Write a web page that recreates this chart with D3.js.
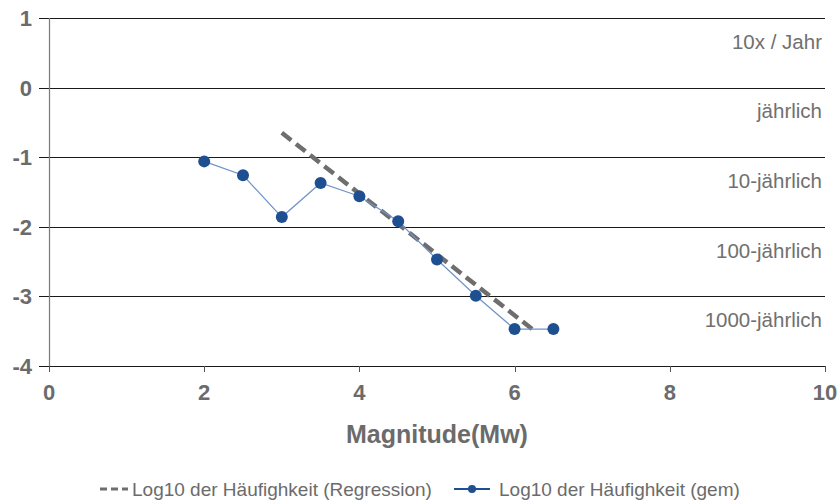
<!DOCTYPE html>
<html><head><meta charset="utf-8">
<script src="https://cdn.jsdelivr.net/npm/d3@7/dist/d3.min.js"></script>
<style>body{margin:0;background:#fff}svg{display:block;font-family:"Liberation Sans",Arial,sans-serif}</style>
</head><body><svg id="c" width="840" height="502"></svg>
<script>
const magnitudes = [2, 2.5, 3, 3.5, 4, 4.5, 5, 5.5, 6, 6.5];
const logFreq = [-1.06, -1.26, -1.86, -1.37, -1.56, -1.92, -2.47, -2.99, -3.47, -3.47];
const regressionX = [3, 6.25];
const regressionY = [-0.65, -3.49];
const yTicks = [1, 0, -1, -2, -3, -4];
const xTicks = [0, 2, 4, 6, 8, 10];
const bandLabels = ["10x / Jahr", "jährlich", "10-jährlich", "100-jährlich", "1000-jährlich"];
const xTitle = "Magnitude(Mw)";
const legendLabels = ["Log10 der Häufighkeit (Regression)", "Log10 der Häufighkeit (gem)"];

const svg = d3.select("#c");
const x = d3.scaleLinear().domain([0, 10]).range([49, 825]);
const y = d3.scaleLinear().domain([-4, 1]).range([366, 18]);
const grey = "#6b6b6b";

svg.append("g").selectAll("line").data(yTicks).join("line")
  .attr("x1", 39).attr("x2", x(10))
  .attr("y1", d => Math.round(y(d)) + 0.5).attr("y2", d => Math.round(y(d)) + 0.5)
  .attr("stroke", "#1a1a1a").attr("stroke-width", 1);

svg.append("line").attr("x1", 49.5).attr("x2", 49.5).attr("y1", y(1)).attr("y2", y(-4))
  .attr("stroke", "#7a7a7a").attr("stroke-width", 1.2);

svg.append("g").selectAll("line").data(xTicks).join("line")
  .attr("x1", d => Math.round(x(d)) + 0.5).attr("x2", d => Math.round(x(d)) + 0.5)
  .attr("y1", y(-4)).attr("y2", y(-4) + 6)
  .attr("stroke", "#555").attr("stroke-width", 1);

svg.append("g").selectAll("text").data(yTicks).join("text")
  .attr("x", 32).attr("y", d => y(d) + 8)
  .attr("text-anchor", "end").attr("font-size", 22).attr("font-weight", "bold")
  .attr("fill", grey).text(d => d);

svg.append("g").selectAll("text").data(xTicks).join("text")
  .attr("x", d => x(d)).attr("y", 400)
  .attr("text-anchor", "middle").attr("font-size", 22).attr("font-weight", "bold")
  .attr("fill", grey).text(d => d);

svg.append("g").selectAll("text").data(bandLabels).join("text")
  .attr("x", 822).attr("y", (d, i) => y(0.5 - i) - 4)
  .attr("text-anchor", "end").attr("font-size", 20.5)
  .attr("fill", "#707070").text(d => d);

svg.append("path")
  .datum(regressionX.map((v, i) => [v, regressionY[i]]))
  .attr("d", d3.line().x(d => x(d[0])).y(d => y(d[1])))
  .attr("fill", "none").attr("stroke", "#6e6e6e").attr("stroke-width", 4.5)
  .attr("stroke-dasharray", "12,6");

const pts = magnitudes.map((m, i) => [m, logFreq[i]]);
svg.append("path").datum(pts)
  .attr("d", d3.line().x(d => x(d[0])).y(d => y(d[1])))
  .attr("fill", "none").attr("stroke", "#6f93c8").attr("stroke-width", 1.2);
svg.append("g").selectAll("circle").data(pts).join("circle")
  .attr("cx", d => x(d[0])).attr("cy", d => y(d[1])).attr("r", 6)
  .attr("fill", "#1d4f91");

svg.append("text").attr("x", (x(0) + x(10)) / 2).attr("y", 443)
  .attr("text-anchor", "middle").attr("font-size", 25).attr("font-weight", "bold")
  .attr("fill", grey).text(xTitle);

const ly = 489;
svg.append("line").attr("x1", 100).attr("x2", 128).attr("y1", ly).attr("y2", ly)
  .attr("stroke", "#6e6e6e").attr("stroke-width", 3).attr("stroke-dasharray", "7,4");
svg.append("text").attr("x", 132).attr("y", ly + 7).attr("font-size", 19)
  .attr("fill", grey).text(legendLabels[0]);
svg.append("line").attr("x1", 454).attr("x2", 490).attr("y1", ly).attr("y2", ly)
  .attr("stroke", "#1d4f91").attr("stroke-width", 2);
svg.append("circle").attr("cx", 472).attr("cy", ly).attr("r", 4).attr("fill", "#1d4f91");
svg.append("text").attr("x", 499).attr("y", ly + 7).attr("font-size", 19)
  .attr("fill", grey).text(legendLabels[1]);
</script></body></html>
